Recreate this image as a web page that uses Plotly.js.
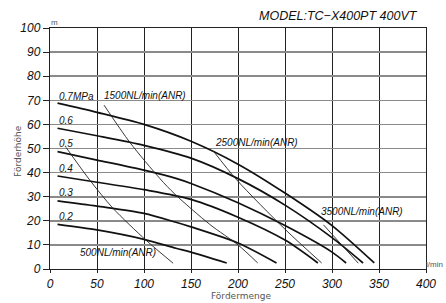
<!DOCTYPE html>
<html><head><meta charset="utf-8">
<script src="https://cdn.plot.ly/plotly-3.0.1.min.js"></script>
<style>html,body{margin:0;padding:0;background:#fff;}#chart{width:446px;height:303px;}</style>
</head><body><div id="chart"></div>
<script>
// Pressure curves (MPa): flow l/min vs head m
const pressureLabels = ["0.7MPa", "0.6", "0.5", "0.4", "0.3", "0.2"];
const p07x = [8, 50, 100, 150, 200, 250, 300, 345];
const p07y = [68.8, 65, 60, 53, 43.5, 31.5, 18, 2.5];
const p06x = [8, 50, 100, 150, 200, 250, 300, 333];
const p06y = [58.4, 55.3, 51.3, 46, 37.5, 26.5, 13, 2.5];
const p05x = [8, 50, 100, 134, 150, 200, 250, 300, 315];
const p05y = [48.7, 45.2, 41, 37.6, 35.5, 27.5, 18, 7, 2.5];
const p04x = [8, 50, 100, 150, 200, 250, 285];
const p04y = [38.6, 36, 32.9, 28.9, 21.5, 12, 2.5];
const p03x = [8, 50, 100, 134, 150, 200, 241];
const p03y = [28.3, 26.1, 23.1, 19.4, 17.5, 10.8, 2.5];
const p02x = [8, 50, 100, 134, 150, 188];
const p02y = [18.5, 16.2, 12.3, 8.6, 7, 2.5];

// Air consumption lines (NL/min ANR)
const airLabels = ["500NL/min(ANR)", "1500NL/min(ANR)", "2500NL/min(ANR)", "3500NL/min(ANR)"];
const a500x = [17, 42.5, 67, 102, 131];
const a500y = [50.5, 36.8, 25.2, 12, 2.4];
const a1500x = [57.5, 85, 117, 133, 170, 200, 221];
const a1500y = [68, 52.5, 37.5, 31, 18.5, 10, 2.5];
const a2500x = [173.7, 198.6, 250, 289];
const a2500y = [49, 37, 16.5, 2.5];
const a3500x = [291, 328];
const a3500y = [18.3, 2.4];

// label anchor positions (data units)
const pLabX = [7.5, 7.5, 7.5, 7.5, 7.5, 7.5];
const pLabY = [71.6, 61.8, 52.1, 41.8, 31.7, 21.7];
const aLabX = [30, 55.3, 173.4, 286];
const aLabY = [7, 71.9, 52.4, 24];

const xTicks = [0, 50, 100, 150, 200, 250, 300, 350, 400];
const yTicks = [0, 10, 20, 30, 40, 50, 60, 70, 80, 90, 100];

const solid = {color: '#111', width: 1.7, shape: 'spline', smoothing: 0.8};
const thin = {color: '#222', width: 0.9, shape: 'spline', smoothing: 0.8};
const traces = [];
[[p07x,p07y],[p06x,p06y],[p05x,p05y],[p04x,p04y],[p03x,p03y],[p02x,p02y]].forEach(d => {
  traces.push({x: d[0], y: d[1], mode: 'lines', line: solid, hoverinfo: 'skip'});
});
[[a500x,a500y],[a1500x,a1500y],[a2500x,a2500y],[a3500x,a3500y]].forEach(d => {
  traces.push({x: d[0], y: d[1], mode: 'lines', line: thin, hoverinfo: 'skip'});
});

const ital = {family: 'Liberation Sans, Arial, sans-serif', size: 10, color: '#111', style: 'italic'};
const ann = [];
pressureLabels.forEach((t, i) => ann.push({x: pLabX[i], y: pLabY[i], xref: 'x', yref: 'y', text: t, showarrow: false, xanchor: 'left', yanchor: 'middle', font: ital}));
airLabels.forEach((t, i) => ann.push({x: aLabX[i], y: aLabY[i], xref: 'x', yref: 'y', text: t, showarrow: false, xanchor: 'left', yanchor: 'middle', font: ital}));
ann.push({x: 1.0, y: 1, xref: 'paper', yref: 'paper', text: 'MODEL:TC\u2212X400PT 400VT', showarrow: false, xanchor: 'right', yanchor: 'bottom', yshift: 3, xshift: -6,
  font: {family: 'Liberation Sans, Arial, sans-serif', size: 12.5, color: '#111', style: 'italic'}});
ann.push({x: 0, y: 1, xref: 'paper', yref: 'paper', text: 'm', showarrow: false, xanchor: 'left', yanchor: 'bottom', xshift: -1, yshift: -1,
  font: {family: 'Liberation Sans, Arial, sans-serif', size: 8, color: '#555'}});
ann.push({x: 1, y: 0, xref: 'paper', yref: 'paper', text: 'l/min', showarrow: false, xanchor: 'left', yanchor: 'bottom', xshift: -2, yshift: -2,
  font: {family: 'Liberation Sans, Arial, sans-serif', size: 8, color: '#555'}});
ann.push({x: -0.085, y: 0.49, xref: 'paper', yref: 'paper', text: 'Förderhöhe', textangle: -90, showarrow: false, xanchor: 'center', yanchor: 'middle',
  font: {family: 'DejaVu Sans, sans-serif', size: 9, color: '#555'}});
ann.push({x: 0.5, y: -0.112, xref: 'paper', yref: 'paper', text: 'Fördermenge', showarrow: false, xanchor: 'center', yanchor: 'middle', xshift: 3,
  font: {family: 'DejaVu Sans, sans-serif', size: 9, color: '#555'}});

const tickFont = {family: 'Liberation Sans, Arial, sans-serif', size: 12, color: '#111', style: 'italic'};
const layout = {
  width: 446, height: 303,
  margin: {l: 50, r: 20, t: 28, b: 34},
  paper_bgcolor: '#fff', plot_bgcolor: '#fff',
  showlegend: false,
  xaxis: {range: [0, 400], tickvals: xTicks, ticktext: xTicks.map(String), showgrid: true, gridcolor: '#222', gridwidth: 1,
    zeroline: false, showline: true, linecolor: '#222', linewidth: 1.2, mirror: true,
    ticks: 'outside', ticklen: 3, tickcolor: '#222', tickfont: tickFont, fixedrange: true},
  yaxis: {range: [0, 100], tickvals: yTicks, ticktext: yTicks.map(String), showgrid: true, gridcolor: '#8a8a8a', gridwidth: 1.6,
    zeroline: false, showline: true, linecolor: '#222', linewidth: 1.2, mirror: true,
    ticks: 'outside', ticklen: 6, tickcolor: '#222', tickfont: tickFont, fixedrange: true},
  annotations: ann
};
Plotly.newPlot('chart', traces, layout, {displayModeBar: false, staticPlot: true});
</script></body></html>
